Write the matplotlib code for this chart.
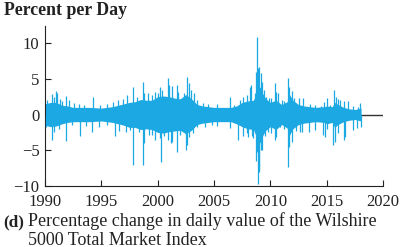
import numpy as np
import matplotlib
matplotlib.use("Agg")
import matplotlib.pyplot as plt

plt.rcParams['font.family'] = ['Liberation Serif', 'DejaVu Serif']

# dense core of the daily changes, percent per day
core_year = [1990.0, 1990.5, 1991.0, 1991.5, 1992.0, 1992.5, 1993.0, 1994.0, 1995.0, 1996.0,
             1996.5, 1997.0, 1997.5, 1998.0, 1998.5, 1999.0, 1999.5, 2000.0, 2000.5, 2001.0,
             2001.5, 2002.0, 2002.5, 2003.0, 2003.5, 2004.0, 2005.0, 2006.0, 2006.5, 2007.0,
             2007.5, 2008.0, 2008.5, 2008.7, 2008.9, 2009.1, 2009.3, 2009.6, 2010.0, 2010.5,
             2011.0, 2011.5, 2011.7, 2012.0, 2012.5, 2013.0, 2014.0, 2014.8, 2015.0, 2015.5,
             2015.7, 2016.0, 2016.5, 2017.0, 2017.5, 2018.05]
core_hi = [1.5, 1.7, 1.7, 1.3, 1.2, 1.0, 1.0, 1.0, 0.9, 1.1,
           1.3, 1.5, 1.7, 1.8, 2.1, 2.0, 2.0, 2.5, 2.6, 2.5,
           2.3, 2.2, 2.8, 2.2, 1.4, 1.2, 1.0, 1.0, 1.0, 1.2,
           1.7, 1.9, 2.0, 2.8, 4.0, 3.8, 3.0, 2.2, 1.7, 2.0,
           1.4, 1.8, 2.8, 2.0, 1.4, 1.2, 1.0, 1.1, 1.2, 1.1,
           1.7, 1.4, 1.0, 0.8, 0.7, 0.9]
core_lo = [-1.5, -1.7, -1.6, -1.3, -1.1, -1.0, -1.0, -1.0, -0.9, -1.1,
           -1.3, -1.5, -1.8, -1.8, -2.1, -2.0, -2.1, -2.5, -2.6, -2.4,
           -2.3, -2.2, -2.7, -2.2, -1.4, -1.2, -1.0, -1.0, -1.0, -1.3,
           -1.7, -2.0, -2.1, -2.9, -4.2, -3.9, -3.0, -2.2, -1.7, -2.1,
           -1.4, -1.9, -2.9, -2.0, -1.4, -1.2, -1.0, -1.1, -1.3, -1.1,
           -1.8, -1.4, -1.0, -0.8, -0.7, -0.9]

# individual spikes sticking out of the core (year, percent)
up_year = [1990.2, 1990.6, 1990.8, 1991.0, 1991.1, 1991.3, 1991.5, 1991.9, 1992.1, 1992.6,
           1993.0, 1993.5, 1994.3, 1994.9, 1995.5, 1996.0, 1996.5, 1996.9, 1997.3, 1997.8,
           1998.2, 1998.7, 1998.8, 1999.1, 1999.5, 1999.8, 2000.0, 2000.2, 2000.4, 2000.9,
           2001.0, 2001.3, 2001.7, 2001.8, 2002.3, 2002.6, 2002.8, 2003.0, 2003.2, 2003.5,
           2004.0, 2004.5, 2005.3, 2006.4, 2006.8, 2007.3, 2007.6, 2007.9, 2008.2, 2008.3,
           2008.6, 2008.75, 2008.84, 2008.9, 2009.0, 2009.17, 2009.25, 2009.4, 2009.6, 2009.9,
           2010.1, 2010.4, 2010.5, 2010.7, 2011.0, 2011.2, 2011.6, 2011.7, 2011.9, 2012.1,
           2012.5, 2012.9, 2013.5, 2014.0, 2014.5, 2014.8, 2015.0, 2015.3, 2015.67, 2015.8,
           2016.0, 2016.2, 2016.5, 2016.9, 2017.3, 2017.8, 2018.0]
up_val = [2.0, 2.9, 2.5, 3.3, 3.0, 2.2, 1.9, 2.6, 2.0, 1.6,
          1.5, 1.4, 2.4, 1.4, 1.5, 1.8, 2.0, 2.2, 2.8, 3.9,
          2.4, 4.6, 3.0, 3.0, 2.8, 3.2, 3.0, 3.9, 3.4, 5.1,
          4.2, 4.0, 4.2, 3.2, 3.0, 5.2, 4.4, 3.5, 3.0, 2.0,
          1.6, 1.5, 1.5, 2.4, 1.3, 2.0, 2.4, 2.8, 3.9, 4.2,
          3.0, 6.0, 10.9, 6.5, 6.7, 5.8, 4.5, 3.5, 2.5, 2.3,
          2.3, 4.4, 3.2, 3.0, 2.0, 1.9, 5.1, 3.9, 3.3, 2.3,
          2.3, 2.3, 1.5, 1.4, 1.2, 1.8, 2.3, 1.4, 3.5, 2.5,
          2.2, 2.0, 1.9, 1.9, 1.2, 1.0, 1.6]
down_year = [1990.1, 1990.6, 1990.8, 1991.2, 1991.9, 1992.4, 1993.1, 1993.6, 1994.2, 1994.8,
             1995.5, 1996.2, 1996.6, 1997.2, 1997.5, 1997.8, 1998.3, 1998.7, 1998.8, 1999.2,
             1999.5, 1999.8, 2000.2, 2000.3, 2000.6, 2000.9, 2001.2, 2001.3, 2001.7, 2002.0,
             2002.5, 2002.6, 2002.8, 2003.1, 2003.5, 2004.2, 2004.8, 2005.3, 2006.4, 2007.1,
             2007.6, 2007.9, 2008.0, 2008.35, 2008.5, 2008.72, 2008.8, 2008.87, 2008.95, 2009.0,
             2009.15, 2009.3, 2009.5, 2009.8, 2010.1, 2010.4, 2010.5, 2010.9, 2011.2, 2011.6,
             2011.7, 2011.9, 2012.3, 2012.6, 2012.8, 2013.4, 2014.0, 2014.7, 2014.85, 2015.0,
             2015.6, 2015.7, 2016.0, 2016.5, 2016.6, 2017.35, 2017.65, 2018.05]
down_val = [-1.8, -3.5, -2.4, -2.0, -3.7, -1.5, -3.0, -1.6, -2.4, -1.8,
            -1.5, -3.0, -2.3, -2.5, -2.2, -7.0, -2.5, -7.0, -4.0, -2.8,
            -2.9, -3.5, -3.3, -6.7, -3.0, -3.5, -4.0, -3.8, -5.3, -2.8,
            -4.9, -4.2, -3.2, -2.6, -1.8, -1.7, -1.4, -1.6, -1.9, -3.5,
            -3.0, -2.6, -3.2, -3.0, -3.3, -6.5, -5.3, -9.7, -7.6, -8.1,
            -5.0, -4.9, -3.0, -2.5, -2.6, -3.5, -3.2, -1.8, -2.0, -7.4,
            -4.5, -3.9, -2.3, -2.5, -2.5, -2.4, -2.1, -2.8, -3.2, -2.0,
            -4.2, -3.9, -2.6, -3.5, -3.2, -2.1, -1.9, -1.8]

blue = '#1ca8e2'
ink = '#222222'

fig = plt.figure(figsize=(4.0, 2.47), dpi=100)
ax = fig.add_axes([0.1125, 0.247, 0.845, 0.648])

ax.hlines(0, 1990, 2020, color='#333333', lw=1.0, zorder=1)
ax.fill_between(core_year, core_lo, core_hi, color=blue, lw=0, zorder=2)
ax.vlines(up_year, 0, up_val, color=blue, lw=0.9, zorder=3)
ax.vlines(down_year, 0, down_val, color=blue, lw=0.9, zorder=3)

ax.set_xlim(1990, 2020)
ax.set_ylim(-10, 12.4)
ax.set_xticks(range(1990, 2021, 5))
ax.set_yticks([-10, -5, 0, 5, 10])
ax.set_yticklabels(['\u221210', '\u22125', '0', '5', '10'])
ax.tick_params(direction='in', length=4, width=0.8, labelsize=12, colors=ink)
ax.tick_params(axis='x', pad=6)
ax.tick_params(axis='y', pad=4)
for s in ['top', 'right']:
    ax.spines[s].set_visible(False)
for s in ['left', 'bottom']:
    ax.spines[s].set_linewidth(0.8)
    ax.spines[s].set_color(ink)

fig.text(4 / 400, 1 - 15 / 247, 'Percent per Day', fontsize=12.8, fontweight='bold',
         color=ink, va='baseline')
fig.text(3 / 400, 1 - 226 / 247, '(d)', fontsize=12.3, fontweight='bold',
         color=ink, va='baseline')
fig.text(28 / 400, 1 - 226 / 247, 'Percentage change in daily value of the Wilshire',
         fontsize=13, color=ink, va='baseline')
fig.text(28 / 400, 1 - 244.5 / 247, '5000 Total Market Index',
         fontsize=13, color=ink, va='baseline')

fig.savefig('out.png', dpi=100)
